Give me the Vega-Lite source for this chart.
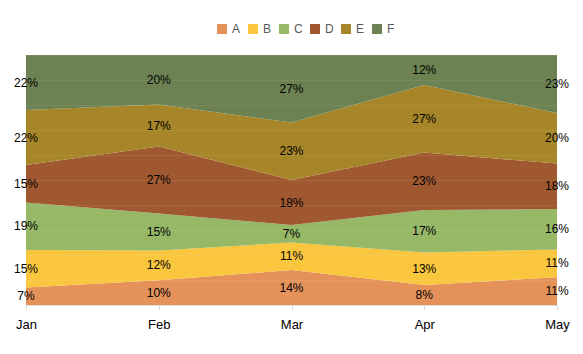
{
  "$schema": "https://vega.github.io/schema/vega-lite/v6.json",
  "width": 531,
  "height": 250,
  "autosize": {"type": "none"},
  "padding": {"left": 26, "top": 55, "right": 26, "bottom": 49},
  "background": "white",
  "config": {"view": {"stroke": null}, "font": "Liberation Sans"},
  "data": {"values": [
    {"m": "Jan", "s": "A", "v": 7}, {"m": "Jan", "s": "B", "v": 15}, {"m": "Jan", "s": "C", "v": 19}, {"m": "Jan", "s": "D", "v": 15}, {"m": "Jan", "s": "E", "v": 22}, {"m": "Jan", "s": "F", "v": 22},
    {"m": "Feb", "s": "A", "v": 10}, {"m": "Feb", "s": "B", "v": 12}, {"m": "Feb", "s": "C", "v": 15}, {"m": "Feb", "s": "D", "v": 27}, {"m": "Feb", "s": "E", "v": 17}, {"m": "Feb", "s": "F", "v": 20},
    {"m": "Mar", "s": "A", "v": 14}, {"m": "Mar", "s": "B", "v": 11}, {"m": "Mar", "s": "C", "v": 7}, {"m": "Mar", "s": "D", "v": 18}, {"m": "Mar", "s": "E", "v": 23}, {"m": "Mar", "s": "F", "v": 27},
    {"m": "Apr", "s": "A", "v": 8}, {"m": "Apr", "s": "B", "v": 13}, {"m": "Apr", "s": "C", "v": 17}, {"m": "Apr", "s": "D", "v": 23}, {"m": "Apr", "s": "E", "v": 27}, {"m": "Apr", "s": "F", "v": 12},
    {"m": "May", "s": "A", "v": 11}, {"m": "May", "s": "B", "v": 11}, {"m": "May", "s": "C", "v": 16}, {"m": "May", "s": "D", "v": 18}, {"m": "May", "s": "E", "v": 20}, {"m": "May", "s": "F", "v": 23}
  ]},
  "transform": [
    {"stack": "v", "groupby": ["m"], "sort": [{"field": "s", "order": "ascending"}], "offset": "normalize", "as": ["y0", "y1"]},
    {"calculate": "(datum.y0 + datum.y1) / 2", "as": "mid"},
    {"calculate": "datum.v + '%'", "as": "label"}
  ],
  "encoding": {
    "x": {"field": "m", "type": "ordinal", "sort": ["Jan", "Feb", "Mar", "Apr", "May"],
      "scale": {"type": "point", "padding": 0},
      "axis": {"title": null, "labelAngle": 0, "labelFontSize": 13, "labelColor": "#000000", "domainColor": "#d9d9d9", "tickColor": "#d9d9d9", "tickSize": 5, "labelPadding": 8, "grid": false}}
  },
  "layer": [
    {
      "mark": {"type": "area", "opacity": 1},
      "encoding": {
        "y": {"field": "y1", "type": "quantitative", "scale": {"domain": [0, 1]}, "axis": {"title": null, "labels": false, "ticks": false, "domain": false, "grid": true, "gridColor": "#ffffff", "gridOpacity": 0.08, "tickCount": 10, "zindex": 1}},
        "y2": {"field": "y0"},
        "color": {"field": "s", "type": "nominal",
          "scale": {"domain": ["A", "B", "C", "D", "E", "F"], "range": ["#e4925a", "#f9c63e", "#96b867", "#a05830", "#a68628", "#6c8252"]},
          "legend": {"title": null, "orient": "none", "legendX": 190, "legendY": -32, "direction": "horizontal", "symbolType": "square", "symbolSize": 100, "symbolStrokeWidth": 0, "labelFontSize": 12, "labelColor": "#595959", "labelOffset": 4, "columnPadding": 6}}
      }
    },
    {
      "mark": {"type": "text", "fontSize": 12, "color": "#000000"},
      "encoding": {
        "y": {"field": "mid", "type": "quantitative"},
        "text": {"field": "label"}
      }
    }
  ]
}
